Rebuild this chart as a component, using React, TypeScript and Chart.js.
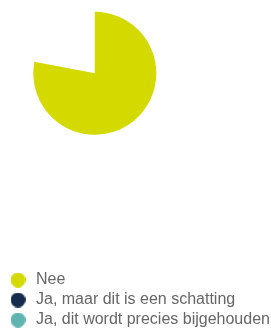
import React, { useEffect, useRef } from "react";
import { Chart, registerables } from "chart.js";

Chart.register(...registerables);

const labels = ["Nee", "Ja, maar dit is een schatting", "Ja, dit wordt precies bijgehouden"];
const values = [78, 12, 10];
const legendColors = ["#d4d900", "#152c4c", "#5fb4b1"];
const sliceColors = ["#d4d900", "rgba(0,0,0,0)", "rgba(0,0,0,0)"];

const FONT = "'Liberation Sans', Arial, Helvetica, sans-serif";

function dot(color: string, d: number) {
  const c = document.createElement("canvas");
  c.width = d;
  c.height = d;
  const ctx = c.getContext("2d")!;
  ctx.fillStyle = color;
  ctx.beginPath();
  ctx.arc(d / 2, d / 2, d / 2, 0, Math.PI * 2);
  ctx.fill();
  return c;
}

export default function App() {
  const ref = useRef<HTMLCanvasElement | null>(null);
  useEffect(() => {
    if (!ref.current) return;
    const dots = legendColors.map((c) => dot(c, 15));
    const chart = new Chart(ref.current, {
      type: "pie",
      data: {
        labels,
        datasets: [
          {
            data: values,
            backgroundColor: sliceColors,
            borderWidth: 0,
          },
        ],
      },
      options: {
        responsive: false,
        animation: false,
        layout: { padding: { left: 4, right: 0, top: 11.8, bottom: 0 } },
        plugins: {
          tooltip: { enabled: false },
          title: {
            display: true,
            position: "right",
            text: "",
            padding: { top: 71, bottom: 0 },
            font: { size: 12 },
          },
          legend: {
            position: "bottom",
            align: "start",
            maxHeight: 400,
            title: { display: true, text: "", padding: { top: 118.8, bottom: 0 }, font: { size: 12 } },
            labels: {
              usePointStyle: true,
              pointStyleWidth: 20,
              boxHeight: 16,
              padding: 4,
              color: "#666666",
              font: { family: FONT, size: 16 },
              generateLabels: () =>
                labels.map((t, i) => ({
                  text: t,
                  fillStyle: legendColors[i],
                  strokeStyle: legendColors[i],
                  lineWidth: 0,
                  pointStyle: dots[i] as any,
                  hidden: false,
                  index: i,
                })),
            },
          },
        },
      },
    });
    return () => chart.destroy();
  }, []);
  return (
    <div style={{ position: "fixed", left: 0, top: 0 }}>
      <canvas ref={ref} width={271} height={338} style={{ display: "block" }} />
    </div>
  );
}
